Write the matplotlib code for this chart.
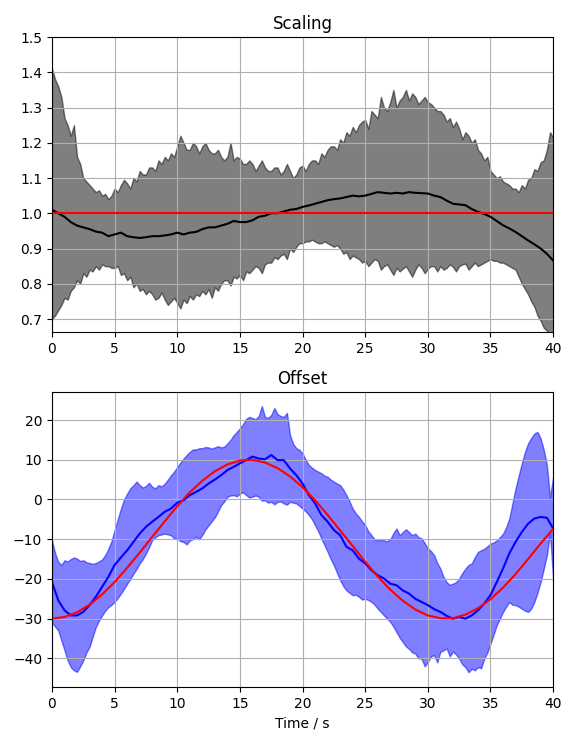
import matplotlib
matplotlib.use("Agg")
import matplotlib.pyplot as plt
import numpy as np

# time grids: bands read every 0.25 s, mean curves every 0.5 s
t_band = np.arange(0, 40.01, 0.25)
t = np.arange(0, 40.01, 0.5)

# --- Scaling panel ---
scale_upper = [
    1.41, 1.38, 1.36, 1.33, 1.27, 1.25, 1.22, 1.25, 1.16, 1.14,
    1.10, 1.09, 1.08, 1.07, 1.06, 1.065, 1.05, 1.055, 1.04, 1.05,
    1.07, 1.06, 1.08, 1.095, 1.085, 1.07, 1.10, 1.09, 1.12, 1.11,
    1.11, 1.13, 1.13, 1.12, 1.15, 1.14, 1.16, 1.15, 1.17, 1.16,
    1.19, 1.22, 1.20, 1.18, 1.18, 1.20, 1.19, 1.17, 1.19, 1.20,
    1.18, 1.17, 1.17, 1.18, 1.16, 1.15, 1.16, 1.20, 1.15, 1.16,
    1.155, 1.14, 1.14, 1.15, 1.14, 1.12, 1.135, 1.15, 1.13, 1.12,
    1.12, 1.13, 1.13, 1.11, 1.12, 1.14, 1.12, 1.10, 1.11, 1.13,
    1.135, 1.12, 1.14, 1.15, 1.15, 1.14, 1.17, 1.16, 1.18, 1.19,
    1.19, 1.18, 1.21, 1.20, 1.23, 1.22, 1.245, 1.23, 1.25, 1.26,
    1.265, 1.24, 1.29, 1.28, 1.27, 1.33, 1.30, 1.29, 1.315, 1.35,
    1.30, 1.32, 1.33, 1.35, 1.32, 1.34, 1.33, 1.31, 1.32, 1.33,
    1.315, 1.31, 1.30, 1.29, 1.29, 1.28, 1.26, 1.27, 1.245, 1.26,
    1.24, 1.21, 1.23, 1.22, 1.20, 1.21, 1.18, 1.17, 1.15, 1.16,
    1.12, 1.11, 1.10, 1.105, 1.09, 1.085, 1.08, 1.07, 1.07, 1.06,
    1.08, 1.07, 1.095, 1.10, 1.125, 1.12, 1.145, 1.15, 1.18, 1.23,
    1.215]
scale_lower = [
    0.70, 0.71, 0.725, 0.74, 0.76, 0.755, 0.78, 0.79, 0.81, 0.80,
    0.83, 0.82, 0.84, 0.835, 0.85, 0.84, 0.855, 0.85, 0.85, 0.845,
    0.845, 0.85, 0.825, 0.83, 0.81, 0.82, 0.79, 0.80, 0.78, 0.785,
    0.77, 0.78, 0.77, 0.755, 0.76, 0.775, 0.755, 0.74, 0.75, 0.76,
    0.745, 0.73, 0.755, 0.745, 0.765, 0.755, 0.77, 0.765, 0.78, 0.77,
    0.785, 0.76, 0.79, 0.78, 0.80, 0.81, 0.81, 0.795, 0.82, 0.815,
    0.825, 0.81, 0.835, 0.83, 0.84, 0.85, 0.845, 0.83, 0.855, 0.86,
    0.86, 0.875, 0.87, 0.88, 0.885, 0.87, 0.90, 0.89, 0.905, 0.915,
    0.915, 0.92, 0.92, 0.925, 0.92, 0.915, 0.915, 0.92, 0.915, 0.91,
    0.905, 0.91, 0.90, 0.885, 0.89, 0.87, 0.88, 0.875, 0.87, 0.86,
    0.865, 0.85, 0.86, 0.87, 0.865, 0.84, 0.85, 0.855, 0.84, 0.825,
    0.845, 0.835, 0.843, 0.85, 0.835, 0.82, 0.84, 0.855, 0.845, 0.83,
    0.843, 0.85, 0.85, 0.835, 0.85, 0.84, 0.845, 0.855, 0.848, 0.835,
    0.85, 0.855, 0.857, 0.84, 0.85, 0.86, 0.85, 0.855, 0.86, 0.865,
    0.87, 0.865, 0.865, 0.86, 0.86, 0.855, 0.85, 0.845, 0.84, 0.82,
    0.80, 0.785, 0.77, 0.75, 0.735, 0.71, 0.695, 0.675, 0.667, 0.655,
    0.66]
scale_mean = [
    1.01, 1.0, 0.99, 0.975, 0.965, 0.96, 0.955, 0.948, 0.945, 0.935,
    0.94, 0.945, 0.935, 0.932, 0.93, 0.932, 0.935, 0.935, 0.937, 0.94,
    0.945, 0.94, 0.945, 0.947, 0.955, 0.96, 0.96, 0.965, 0.97, 0.978,
    0.975, 0.975, 0.98, 0.99, 0.993, 1.0, 1.0, 1.005, 1.01, 1.012,
    1.018, 1.022, 1.027, 1.032, 1.037, 1.04, 1.042, 1.046, 1.05, 1.048,
    1.05, 1.055, 1.06, 1.058, 1.056, 1.058, 1.056, 1.06, 1.058, 1.057,
    1.056, 1.05, 1.046, 1.036, 1.027, 1.025, 1.023, 1.012, 1.004, 0.998,
    0.99, 0.978, 0.966, 0.957, 0.947, 0.935, 0.923, 0.912, 0.90, 0.885,
    0.866]
scale_true_t = [0, 40]
scale_true = [1.0, 1.0]

# --- Offset panel ---
off_upper = [
    -10.3, -13.6, -15.7, -16.5, -15.3, -15.6, -15.0, -14.6, -14.9, -15.5,
    -15.3, -15.8, -16.0, -16.2, -16.0, -15.6, -15.1, -14.0, -12.4, -10.5,
    -7.7, -5.0, -2.3, 0.0, 1.5, 2.8, 3.6, 4.5, 3.6, 3.0,
    3.4, 4.2, 3.2, 2.8, 3.6, 3.3, 4.0, 5.0, 6.1, 7.0,
    8.2, 9.3, 10.3, 11.2, 12.0, 12.6, 12.6, 12.9, 12.9, 13.2,
    13.1, 12.8, 13.1, 13.4, 13.1, 13.3, 14.1, 15.0, 16.2, 17.0,
    17.9, 19.0, 20.3, 20.8, 20.5, 20.2, 21.0, 23.5, 20.8, 20.5,
    21.3, 23.0, 21.5, 21.0, 20.8, 21.8, 16.2, 14.0, 12.9, 12.5,
    11.6, 10.0, 8.7, 8.0, 7.4, 7.0, 6.6, 6.0, 5.7, 5.0,
    4.5, 4.0, 3.6, 2.5, 1.1, -0.5, -2.3, -3.5, -4.4, -5.5,
    -6.5, -8.0, -9.0, -10.0, -10.3, -10.2, -10.3, -10.5, -10.0, -8.5,
    -7.3, -9.0, -8.2, -7.5, -8.2, -9.0, -8.6, -9.5, -9.8, -11.0,
    -12.4, -13.0, -14.0, -16.0, -17.4, -19.5, -20.8, -21.5, -21.2, -20.8,
    -19.9, -18.5, -17.4, -16.5, -16.1, -14.5, -13.2, -12.8, -12.4, -11.8,
    -11.1, -10.8, -10.3, -9.5, -8.6, -7.0, -4.8, -1.0, 2.8, 6.0,
    9.1, 12.0, 14.1, 15.5, 16.6, 17.0, 15.4, 12.5, 8.7, 0.5,
    5.7]
off_lower = [
    -31.0, -32.0, -33.0, -35.5, -38.0, -40.5, -42.2, -43.0, -43.4, -42.0,
    -40.5, -38.5, -37.1, -34.5, -32.1, -30.5, -29.2, -28.0, -27.1, -26.5,
    -25.8, -24.8, -23.7, -22.5, -21.2, -20.0, -18.7, -17.5, -16.1, -15.0,
    -13.6, -12.0, -10.2, -9.5, -9.0, -8.8, -8.6, -8.8, -9.0, -9.8,
    -9.8, -10.5, -10.7, -11.3, -10.3, -10.0, -9.4, -10.0, -8.9, -7.5,
    -6.5, -5.5, -4.5, -3.0, -1.4, -0.5, 0.7, 1.0, 1.1, 0.8,
    1.5, 1.8, 1.1, 0.5, 0.7, 1.0, 0.7, -0.3, -0.2, -0.8,
    -0.6, -1.2, -0.6, -0.5, -1.0, -1.3, -0.6, -0.8, -1.0, -1.6,
    -2.3, -3.0, -3.9, -5.0, -6.5, -8.0, -9.8, -11.5, -13.2, -15.0,
    -16.6, -18.5, -20.3, -21.8, -22.9, -23.5, -24.1, -24.0, -24.5, -25.2,
    -25.0, -25.3, -25.8, -26.5, -27.5, -28.3, -29.2, -30.0, -30.8, -32.0,
    -33.4, -34.8, -35.9, -37.0, -37.6, -38.5, -38.8, -40.0, -40.1, -42.0,
    -40.9, -39.5, -39.2, -41.0, -38.3, -38.0, -37.5, -39.5, -38.3, -39.0,
    -40.1, -41.5, -42.2, -43.5, -42.6, -43.0, -42.2, -42.5, -40.1, -38.5,
    -36.3, -34.0, -31.6, -30.0, -28.3, -27.0, -25.8, -26.5, -26.6, -27.0,
    -27.5, -28.0, -28.3, -27.5, -25.8, -23.5, -20.8, -17.5, -14.0, -8.6,
    -19.9]
off_mean = [
    -20.8, -25.4, -27.9, -29.2, -29.2, -28.3, -26.6, -24.5, -22.0, -19.5,
    -16.5, -14.6, -12.8, -10.7, -8.6, -6.9, -5.6, -4.4, -3.1, -2.3,
    -0.8, -0.2, 1.1, 1.9, 2.8, 4.0, 5.0, 6.1, 7.4, 8.2,
    9.1, 9.9, 10.8, 10.3, 10.1, 11.2, 9.9, 9.9, 7.8, 6.1,
    4.0, 1.1, -1.0, -3.9, -5.6, -7.7, -9.0, -11.9, -12.8, -14.9,
    -16.1, -17.8, -19.1, -19.9, -21.2, -21.6, -22.9, -23.7, -25.0, -25.8,
    -26.6, -27.6, -28.3, -29.3, -30.0, -29.6, -30.0, -29.2, -27.9, -26.2,
    -24.1, -20.8, -17.4, -13.6, -10.7, -8.2, -6.1, -4.8, -4.4, -4.6,
    -7.3]
off_true_t = list(range(0, 41))
off_true = [
    -30.0, -29.6, -28.4, -26.5, -23.9, -20.8, -17.2, -13.4, -9.4, -5.5,
    -1.7, 1.8, 4.7, 7.1, 8.8, 9.8, 10.0, 9.3, 7.9, 5.8,
    3.1, -0.2, -3.9, -7.8, -11.7, -15.7, -19.4, -22.7, -25.5, -27.7,
    -29.2, -29.9, -29.9, -29.0, -27.4, -25.1, -22.2, -18.8, -15.0, -11.1,
    -7.4]

fig = plt.figure(figsize=(5.65, 7.33), dpi=100)
ax1 = fig.add_axes([0.092, 0.547, 0.887, 0.4025])
ax2 = fig.add_axes([0.092, 0.0628, 0.887, 0.4024])

ax1.fill_between(t_band, scale_lower, scale_upper, color='k', alpha=0.5)
ax1.plot(t, scale_mean, 'k', lw=1.5)
ax1.plot(scale_true_t, scale_true, 'r', lw=1.5)
ax1.set_title('Scaling')
ax1.set_xlim(0, 40)
ax1.set_ylim(0.663, 1.5)
ax1.grid(True)

ax2.fill_between(t_band, off_lower, off_upper, color='b', alpha=0.5)
ax2.plot(t, off_mean, 'b', lw=1.5)
ax2.plot(off_true_t, off_true, 'r', lw=1.5)
ax2.set_title('Offset')
ax2.set_xlim(0, 40)
ax2.set_ylim(-47.2, 27.05)
ax2.set_xlabel('Time / s')
ax2.grid(True)

fig.savefig('out.png', dpi=100)
